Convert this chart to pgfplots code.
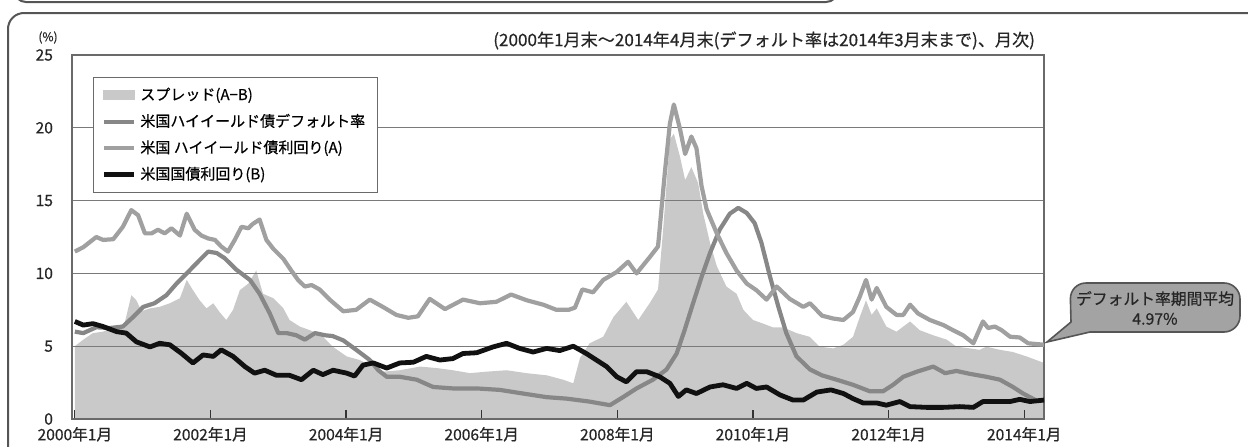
\documentclass[border=0pt]{standalone}
\usepackage{fontspec}
\setmainfont{Noto Sans CJK JP}[FakeBold=0.6]
\usepackage{pgfplots}
\usepackage{pgfplotstable}
\pgfplotsset{compat=1.18}

\definecolor{spreadgray}{HTML}{C9C9C9}
\definecolor{defaultgray}{HTML}{878787}
\definecolor{hygray}{HTML}{A0A0A0}
\definecolor{treasuryblack}{HTML}{111111}
\definecolor{gridgray}{HTML}{7A7A7A}
\definecolor{axisgray}{HTML}{6A6A6A}
\definecolor{framegray}{HTML}{555555}
\definecolor{calloutgray}{HTML}{A3A3A3}

\pgfplotsset{
  lineleg/.style={legend image code/.code={\draw[##1] (0pt,0pt) -- (15pt,0pt);}},
  arealeg/.style={legend image code/.code={\fill[spreadgray] (0pt,-2.2pt) rectangle (15pt,2.2pt);}},
  % shared frame of both layers of the chart
  baseaxis/.style={
    at={(36pt,13.5pt)}, anchor=south west,
    scale only axis, width=486pt, height=182pt,
    xmin=-0.5, xmax=171.5, ymin=0, ymax=25,
  },
}

% x = months since end of Jan 2000
\pgfplotstableread{
x y
0 5.0
1.5 5.45
3.2 5.9
5 6.0
7.4 6.35
8.8 6.55
10 8.5
10.9 8.15
11.8 7.4
13.3 7.6
15 7.7
16.8 7.95
18.6 8.3
19.8 9.55
20.9 8.85
22.1 8.15
23.3 7.6
24.5 7.95
25.6 7.35
26.8 6.8
28 7.5
29.2 8.85
30.7 9.3
32.1 10.2
33.3 8.6
35.1 8.3
36.9 7.6
38 6.8
39.8 6.35
41.6 6.1
43.9 5.65
45.7 4.95
48.1 4.3
50.4 4.05
52.8 3.6
54.5 3.25
57.5 3.35
61.1 3.6
64 3.5
66.9 3.35
69.9 3.15
72.8 3.25
76.4 3.35
79.9 3.15
83.5 3.0
86.4 2.7
88.2 2.45
89.4 4.2
91.1 5.2
93.5 5.65
95.3 7.0
97.6 8.05
99.7 6.8
101.8 8.0
103.2 8.9
104.1 13.0
105.3 19.2
106 19.6
107.1 18.0
108 16.4
109.1 17.3
110.3 16.2
111.2 14.1
112.4 12.1
113.6 10.5
115.3 9.1
117.1 8.6
118.3 7.5
120 6.8
121.8 6.55
123.5 6.3
125.3 6.3
127.7 5.9
130 5.65
131.8 4.97
134.2 4.85
136 5.1
137.7 5.65
138.9 7.0
140 8.15
141 7.15
141.9 7.6
143.6 6.35
145.4 6.0
147.8 6.7
149.5 6.1
151.9 5.75
154.3 5.45
156 4.97
158.4 4.85
160.1 4.75
161.3 4.97
163.7 4.75
166 4.6
168.4 4.3
171.5 3.85
}\spread

\pgfplotstableread{
x y
0 6.0
1.5 5.9
3.8 6.3
6.2 6.25
8.5 6.35
10.3 7.0
12.1 7.7
14.1 7.95
16.2 8.5
18 9.3
19.8 10.0
21.8 10.8
23.6 11.5
25.1 11.4
26.5 11.05
28.6 10.25
31 9.55
32.7 8.6
34.5 7.25
36 5.9
37.5 5.9
39.2 5.75
40.7 5.45
42.5 5.9
44.3 5.75
45.6 5.7
47.5 5.4
49.8 4.75
52.2 4.05
53.7 3.35
55.2 2.9
57.5 2.9
60.5 2.7
63.4 2.2
66.9 2.1
71.1 2.1
75.2 2.0
79.3 1.75
83.5 1.5
87 1.4
91 1.2
94.7 0.95
97 1.5
99.4 2.1
102.3 2.7
104.7 3.4
106.5 4.5
107.9 6.1
109.4 7.95
110.9 9.75
112.4 11.4
114.1 13.0
115.9 14.1
117.4 14.5
118.9 14.15
120.3 13.45
121.5 12.1
123 9.8
124.5 7.7
125.9 5.9
127.7 4.3
130.1 3.4
132.2 3.0
134.8 2.7
137.7 2.35
140.7 1.9
143 1.9
144.8 2.35
146.6 2.9
149 3.25
151.9 3.6
154 3.15
156 3.3
158.4 3.1
161.3 2.9
163.7 2.7
166 2.2
167.8 1.75
170 1.3
}\defaultrate

\pgfplotstableread{
x y
0 11.5
1.5 11.8
3.8 12.5
5 12.3
6.8 12.35
8.5 13.2
10 14.35
11.2 14.0
12.4 12.75
13.6 12.75
14.7 13.0
15.9 12.75
17.1 13.1
18.6 12.6
19.8 14.1
21.2 13.0
22.4 12.6
23.6 12.4
24.8 12.3
25.9 11.85
27.1 11.5
28.3 12.3
29.5 13.2
30.7 13.1
31.5 13.4
32.7 13.7
33.9 12.3
35.1 11.7
36.9 11.0
38.3 10.2
39.5 9.55
40.7 9.1
41.9 9.2
43.3 8.9
45.1 8.2
47.5 7.4
49.8 7.5
52.2 8.2
54.5 7.7
56.9 7.15
59.0 6.95
60.7 7.05
62.8 8.25
65.5 7.55
68.7 8.2
71.7 7.95
74.6 8.05
77.2 8.55
80 8.15
82.9 7.85
85.2 7.5
87.4 7.5
88.5 7.65
89.8 8.9
91.7 8.7
93.5 9.55
95.9 10.1
97.9 10.8
99.4 10.0
101.8 11.15
103.2 11.85
104.4 16.9
105.3 20.3
106 21.6
107.1 19.9
108 18.2
109.1 19.4
110 18.6
110.9 16.0
111.8 14.4
113.6 12.75
115.3 11.4
117.1 10.2
118.9 9.3
120.6 8.85
122.4 8.2
124.2 9.1
126.5 8.25
128.9 7.7
130.1 7.95
132.2 7.1
134.2 6.9
136 6.8
137.7 7.35
138.9 8.4
140 9.55
141 8.2
141.9 9.0
143.6 7.7
145.4 7.15
146.6 7.15
147.8 7.85
149.2 7.25
151.3 6.8
153.7 6.45
155.4 6.1
157.2 5.75
159 5.2
160.7 6.7
161.6 6.25
162.8 6.35
164 6.1
165.5 5.65
167.2 5.6
168.7 5.2
171.5 5.1
}\hyyield

\pgfplotstableread{
x y
0 6.7
1.5 6.45
3.2 6.55
5 6.35
7.4 6.0
9.1 5.9
10.9 5.3
13.3 4.95
15 5.2
16.8 5.1
18.9 4.5
20.9 3.85
22.7 4.4
24.5 4.3
25.9 4.75
28 4.3
30.1 3.6
31.8 3.15
33.6 3.35
35.7 3.0
38 3.0
40.1 2.7
42.2 3.35
43.9 3.05
45.7 3.35
48.1 3.15
49.5 2.95
51 3.7
52.8 3.85
55.2 3.5
57.5 3.85
59.9 3.9
62.2 4.3
64.6 4.05
66.9 4.15
68.7 4.5
71.1 4.55
74 4.95
76.4 5.2
78.7 4.85
81.1 4.6
83.5 4.85
85.8 4.7
88.2 5.0
90.5 4.5
92.3 4.05
94.1 3.6
95.9 2.9
97.6 2.55
99.4 3.25
101.2 3.25
103.5 2.9
105.3 2.45
106.8 1.55
108.2 2.0
110 1.75
112.4 2.2
114.7 2.35
117.1 2.1
118.9 2.45
120.6 2.1
122.4 2.2
124.8 1.65
127.1 1.3
128.9 1.3
131.3 1.85
133.8 2.0
136 1.75
137.7 1.4
139.5 1.1
141.9 1.1
143.6 0.95
146 1.2
147.8 0.85
150.7 0.8
153.7 0.8
156.6 0.85
159 0.8
160.7 1.2
163.1 1.2
165.5 1.2
167.2 1.35
169 1.2
171.5 1.3
}\treasury

\begin{document}
\begin{tikzpicture}
\path[use as bounding box] (0,0) rectangle (624pt,223pt);

% spread area with the grid and axis drawn over it
\begin{axis}[
  baseaxis,
  axis on top,
  xtick={0,24,48,72,96,120,144,168},
  xticklabels={2000年1月,2002年1月,2004年1月,2006年1月,2008年1月,2010年1月,2012年1月,2014年1月},
  ytick={0,5,10,15,20,25},
  ymajorgrids,
  grid style={color=gridgray, line width=0.65pt},
  axis line style={color=axisgray, line width=0.75pt},
  tick pos=left, tick align=inside,
  major tick length=4.5pt,
  xtick style={color=black!80, line width=0.6pt},
  ytick style={draw=none},
  tick label style={font=\fontsize{7.8}{9}\selectfont, text=black!85},
  /pgf/number format/assume math mode=true,
  yticklabel style={xshift=-6pt},
  xticklabel style={yshift=-0.5pt},
]
\addplot[fill=spreadgray, draw=none] table {\spread} \closedcycle;
\end{axis}

% the three rate lines, above the grid
\begin{axis}[
  baseaxis,
  hide axis,
  legend cell align=left,
  legend style={at={(0.0216,0.9396)}, anchor=north west,
    draw=axisgray, line width=0.6pt, fill=white,
    font=\fontsize{7.5}{9}\selectfont, row sep=1.4pt,
    inner xsep=4pt, inner ysep=3pt},
]
\addlegendimage{arealeg}
\addlegendentry{スプレッド(A−B)}

\addplot[defaultgray, line width=2.1pt, line join=round, lineleg]
  table {\defaultrate};
\addlegendentry{米国ハイイールド債デフォルト率}

\addplot[hygray, line width=2.1pt, line join=round, lineleg]
  table {\hyyield};
\addlegendentry{米国 ハイイールド債利回り(A)}

\addplot[treasuryblack, line width=2.4pt, line join=round, lineleg]
  table {\treasury};
\addlegendentry{米国国債利回り(B)}
\end{axis}

% frame, notes and callout, in pixel units measured from the top left
\begin{scope}[shift={(0pt,223pt)}, x=0.5pt, y=-0.5pt]
  \draw[framegray, line width=1pt, rounded corners=8pt]
    (8,470) -- (8,13) -- (1270,13);
  \draw[framegray, line width=1pt, rounded corners=6pt]
    (14,-20) -- (14,2) -- (838,2) -- (838,-20);
  \node[font=\fontsize{6}{7}\selectfont, text=black!85] at (48,37.5) {(\%)};
  \node[anchor=east, font=\fontsize{8.55}{9}\selectfont, text=black!85]
    at (1042,40.5) {(2000年1月末～2014年4月末(デフォルト率は2014年3月末まで)、月次)};
  \path[draw=framegray, fill=calloutgray, line width=0.8pt]
    (1047,342) -- (1071,322) [rounded corners=8pt] -- (1070,283) -- (1240,283)
    -- (1240,332) [sharp corners] -- (1090,332) -- cycle;
  \node[align=center, font=\fontsize{7.9}{10}\selectfont, text=black!85]
    at (1155,308) {デフォルト率期間平均\\4.97\%};
\end{scope}
\end{tikzpicture}
\end{document}
